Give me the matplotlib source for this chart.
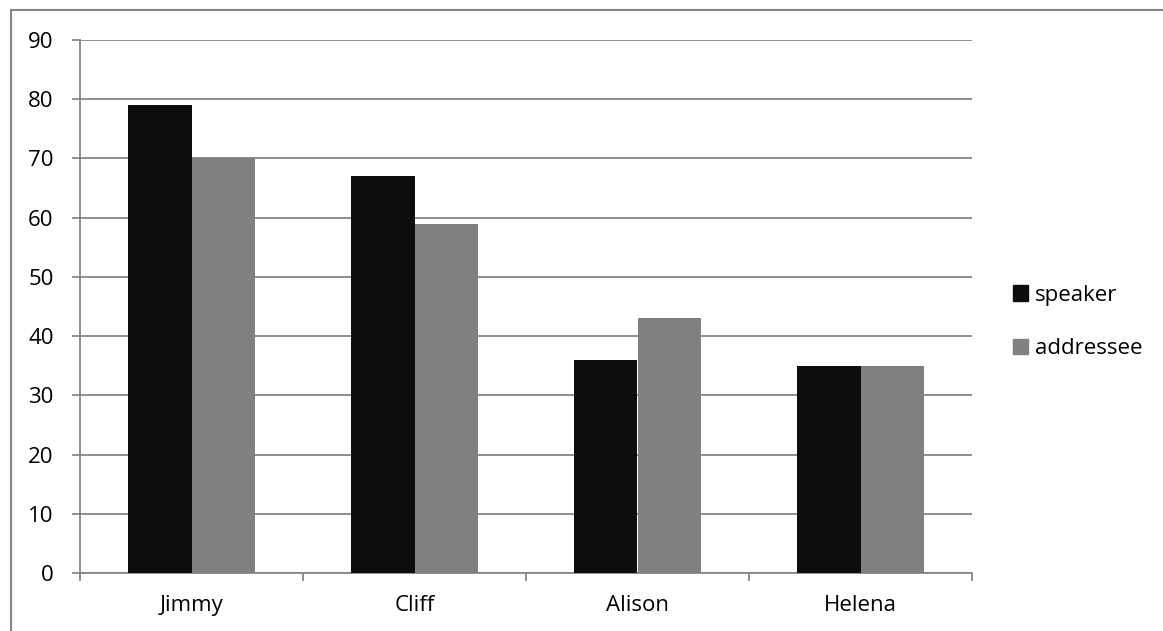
import matplotlib
matplotlib.use("Agg")
import matplotlib.pyplot as plt
import numpy as np
from matplotlib.patches import Patch
from matplotlib.lines import Line2D

categories = ["Jimmy", "Cliff", "Alison", "Helena"]
speaker = [79, 67, 36, 35]
addressee = [70, 59, 43, 35]
series_names = ["speaker", "addressee"]
yticks = list(range(0, 91, 10))

plt.rcParams['font.family'] = ['Open Sans', 'DejaVu Sans']
FS = 16

W, H = 1163, 631
fig = plt.figure(figsize=(W / 100, H / 100), dpi=100)
ax = fig.add_axes([80 / W, 1 - 573 / H, (972 - 80) / W, (573 - 40) / H])

x = np.arange(len(categories))
bw = 0.285
ax.bar(x - bw / 2, speaker, bw, color="#0d0d0d", zorder=3)
ax.bar(x + bw / 2, addressee, bw, color="#808080", zorder=3)

ax.set_xlim(-0.5, len(categories) - 0.5)
ax.set_ylim(0, 90)
ax.set_yticks(yticks)
ax.yaxis.grid(True, color="#868686", linewidth=1.3, zorder=0)
ax.set_axisbelow(True)
for s in ["top", "right"]:
    ax.spines[s].set_visible(False)
for s in ["left", "bottom"]:
    ax.spines[s].set_color("#868686")
    ax.spines[s].set_linewidth(1.3)

ax.set_xticks(x)
ax.set_xticklabels(categories)
ax.tick_params(axis="x", length=0, pad=16, labelsize=FS)
ax.set_xticks(np.arange(-0.5, len(categories)), minor=True)
ax.tick_params(axis="x", which="minor", length=6, width=1.3, color="#868686")
ax.tick_params(axis="y", length=6, width=1.3, color="#868686", pad=13, labelsize=FS)

handles = [Patch(color="#0d0d0d"), Patch(color="#808080")]
leg = fig.legend(handles, series_names, loc="center left",
                 bbox_to_anchor=(1013 / W, 1 - 322 / H), frameon=False,
                 borderpad=0, borderaxespad=0,
                 fontsize=FS, handlelength=0.68, handleheight=0.68,
                 handletextpad=0.3, labelspacing=1.45)

# chart frame (left and top edges visible)
fig.add_artist(Line2D([11 / W, 11 / W], [0, 1 - 10 / H], transform=fig.transFigure,
                      color="#868686", linewidth=1.5))
fig.add_artist(Line2D([11 / W, 1], [1 - 10 / H, 1 - 10 / H], transform=fig.transFigure,
                      color="#868686", linewidth=1.5))

fig.savefig("out.png", dpi=100)
